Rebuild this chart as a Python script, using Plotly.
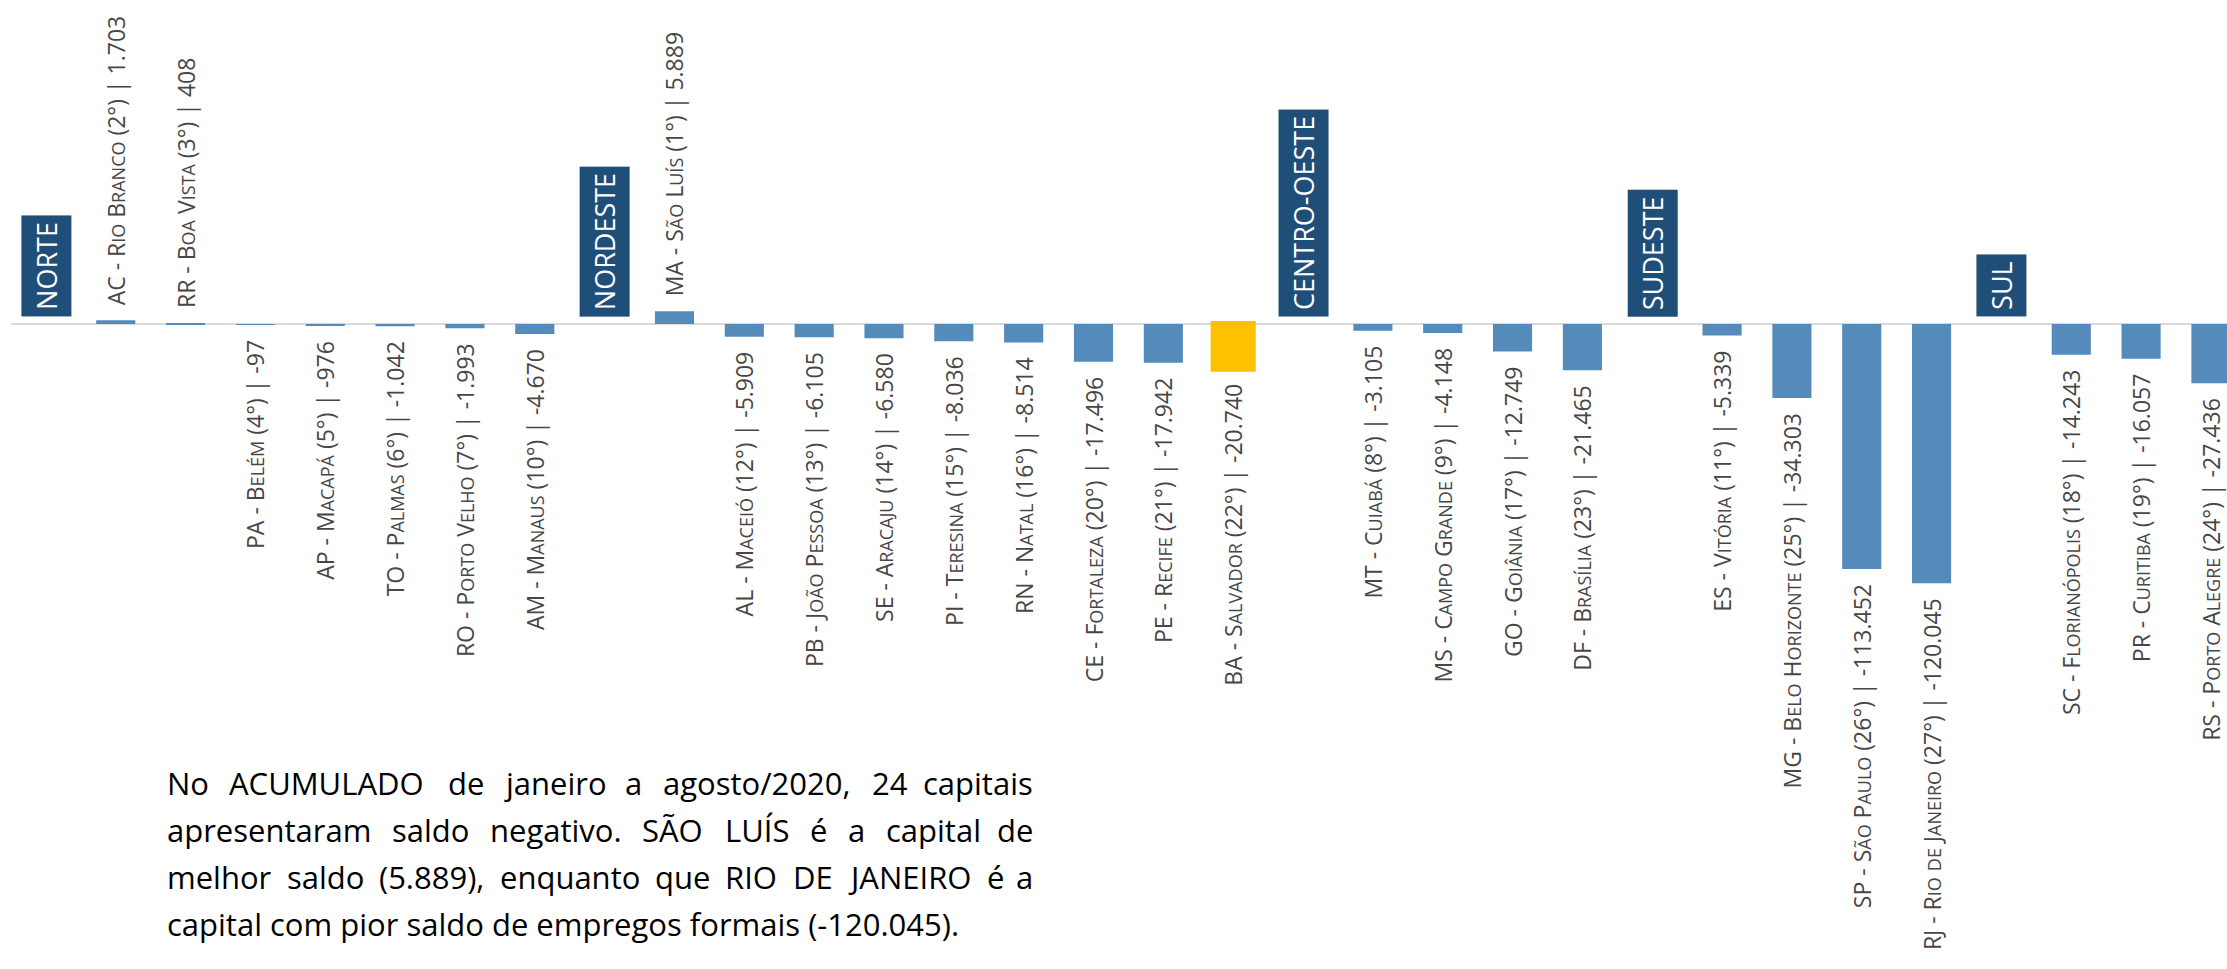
import plotly.graph_objects as go

# ---------------- data ----------------
regions = ["NORTE", "NORDESTE", "CENTRO-OESTE", "SUDESTE", "SUL"]
region_sizes = [7, 9, 4, 4, 3]
states = ["AC", "RR", "PA", "AP", "TO", "RO", "AM",
          "MA", "AL", "PB", "SE", "PI", "RN", "CE", "PE", "BA",
          "MT", "MS", "GO", "DF",
          "ES", "MG", "SP", "RJ",
          "SC", "PR", "RS"]
cities = ["Rio Branco", "Boa Vista", "Belém", "Macapá", "Palmas", "Porto Velho", "Manaus",
          "São Luís", "Maceió", "João Pessoa", "Aracaju", "Teresina", "Natal", "Fortaleza", "Recife", "Salvador",
          "Cuiabá", "Campo Grande", "Goiânia", "Brasília",
          "Vitória", "Belo Horizonte", "São Paulo", "Rio de Janeiro",
          "Florianópolis", "Curitiba", "Porto Alegre"]
ranks = [2, 3, 4, 5, 6, 7, 10,
         1, 12, 13, 14, 15, 16, 20, 21, 22,
         8, 9, 17, 23,
         11, 25, 26, 27,
         18, 19, 24]
values = [1703, 408, -97, -976, -1042, -1993, -4670,
          5889, -5909, -6105, -6580, -8036, -8514, -17496, -17942, -20740,
          -3105, -4148, -12749, -21465,
          -5339, -34303, -113452, -120045,
          -14243, -16057, -27436]
highlight = "BA"

paragraph = [
    ["No", "ACUMULADO", "de", "janeiro", "a", "agosto/2020,", "24", "capitais"],
    ["apresentaram", "saldo", "negativo.", "SÃO", "LUÍS", "é", "a", "capital", "de"],
    ["melhor", "saldo", "(5.889),", "enquanto", "que", "RIO", "DE", "JANEIRO", "é", "a"],
    ["capital com pior saldo de empregos formais (-120.045)."],
]
# left edge (px) of each word in the justified paragraph (last word of
# lines 1-3 is right-aligned to the paragraph's right edge)
para_word_x = [
    [165, 227, 446, 502, 623, 661, 870, 0],
    [165, 390, 488, 640, 723, 808, 846, 884, 0],
    [165, 285, 377, 498, 653, 723, 791, 846, 985, 0],
    [165],
]
para_right = 1035
para_line_y = [783, 830, 877, 924]

# ---------------- styling ----------------
W, H = 2227, 969
ML = 11
BAR = "#558BBA"
YEL = "#FFC000"
NAVY = "#1F4E79"
TXT = "#474747"
FONT = "Open Sans"
LBL_SIZE = 23
SC_SIZE = 18
NB = "\u00a0"


def small_caps(name):
    out, run = [], ""
    for ch in name:
        if ch.islower():
            run += ch.upper()
        else:
            if run:
                out.append(f'<span style="font-size:{SC_SIZE}px">{run}</span>')
                run = ""
            out.append(ch)
    if run:
        out.append(f'<span style="font-size:{SC_SIZE}px">{run}</span>')
    return "".join(out)


def fmt(v):
    return f"{v:,}".replace(",", ".")


# category order: region slot followed by its capitals
categories = []
k = 0
for r, n in zip(regions, region_sizes):
    categories.append(r)
    categories.extend(states[k:k + n])
    k += n

labels = []
for s, c, rk, v in zip(states, cities, ranks, values):
    t = f"{s} - {small_caps(c)} ({rk}°) | {fmt(v)}"
    labels.append(NB * 2 + t if v > 0 else t + NB * 2)

colors = [YEL if s == highlight else BAR for s in states]
line_w = [6 if s == highlight else 0 for s in states]

fig = go.Figure()
fig.add_trace(go.Bar(
    x=states, y=values, width=0.56,
    marker=dict(color=colors, line=dict(color=colors, width=line_w)),
    text=labels, textposition="outside", textangle=-90,
    textfont=dict(family=FONT, size=LBL_SIZE, color=TXT),
    constraintext="none", cliponaxis=False, hoverinfo="skip",
))

ann = []
for r in regions:
    ann.append(dict(x=r, y=0, xref="x", yref="y", text=r, textangle=-90,
                    showarrow=False, yanchor="bottom", yshift=7,
                    bgcolor=NAVY, borderpad=6,
                    font=dict(family=FONT, size=27, color="white")))

pw = W - ML
for words, xs, py in zip(paragraph, para_word_x, para_line_y):
    for i, (w, px) in enumerate(zip(words, xs)):
        last = (i == len(words) - 1) and len(words) > 1
        ann.append(dict(
            x=((para_right if last else px) - ML) / pw, y=1 - py / H,
            xref="paper", yref="paper", text=w, showarrow=False,
            xanchor="right" if last else "left", yanchor="middle",
            font=dict(family=FONT, size=31, color="#000000")))

fig.update_layout(
    width=W, height=H,
    margin=dict(l=ML, r=0, t=0, b=0),
    paper_bgcolor="white", plot_bgcolor="white",
    showlegend=False,
    annotations=ann,
    xaxis=dict(type="category", categoryorder="array", categoryarray=categories,
               range=[-0.5, 31.23], showticklabels=False, showgrid=False,
               zeroline=False, showline=False, ticks=""),
    yaxis=dict(range=[-298600, 150000], showticklabels=False, showgrid=False,
               zeroline=True, zerolinecolor="#D9D9D9", zerolinewidth=2,
               showline=False, ticks=""),
)

fig.write_html("out.html",
               config={"displayModeBar": False},
               post_script="document.body.style.margin='0';document.body.style.overflow='hidden';")
